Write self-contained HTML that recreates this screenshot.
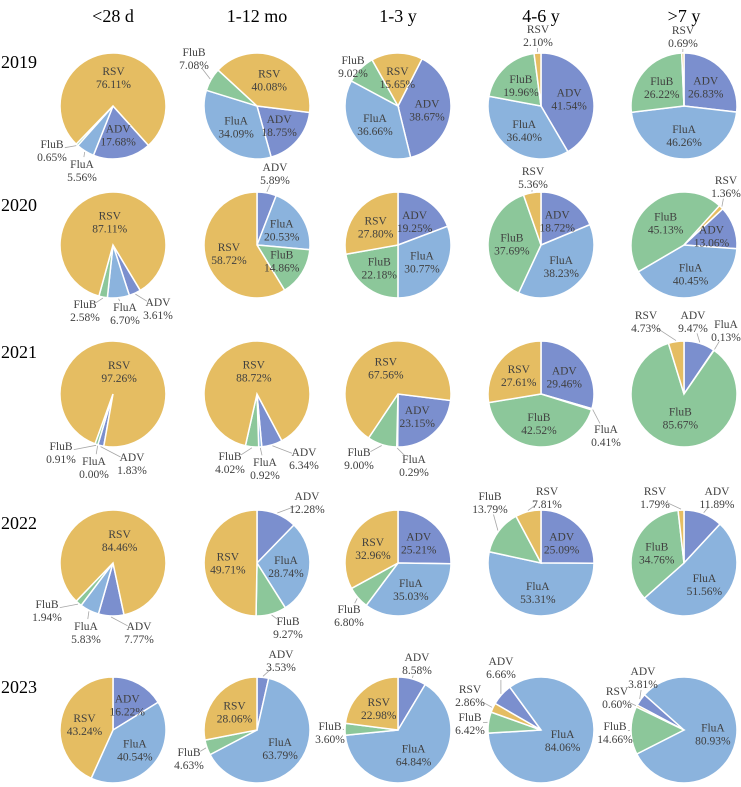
<!DOCTYPE html>
<html><head><meta charset="utf-8">
<style>
html,body{margin:0;padding:0;background:#fff;}
svg{display:block;font-family:"Liberation Serif",serif;}
</style></head>
<body>
<svg id="chart" width="741" height="787" viewBox="0 0 741 787" xmlns="http://www.w3.org/2000/svg"></svg>
<script>
const ageGroups = ["<28 d","1-12 mo","1-3 y","4-6 y",">7 y"];
const years = ["2019","2020","2021","2022","2023"];
const seriesNames = ["ADV","FluA","FluB","RSV"];
const values2019 = [[17.68,5.56,0.65,76.11],[18.75,34.09,7.08,40.08],[38.67,36.66,9.02,15.65],[41.54,36.40,19.96,2.10],[26.83,46.26,26.22,0.69]];
const values2020 = [[3.61,6.70,2.58,87.11],[5.89,20.53,14.86,58.72],[19.25,30.77,22.18,27.80],[18.72,38.23,37.69,5.36],[13.06,40.45,45.13,1.36]];
const values2021 = [[1.83,0.00,0.91,97.26],[6.34,0.92,4.02,88.72],[23.15,0.29,9.00,67.56],[29.46,0.41,42.52,27.61],[9.47,0.13,85.67,4.73]];
const values2022 = [[7.77,5.83,1.94,84.46],[12.28,28.74,9.27,49.71],[25.21,35.03,6.80,32.96],[25.09,53.31,13.79,7.81],[11.89,51.56,34.76,1.79]];
const values2023 = [[16.22,40.54,0,43.24],[3.53,63.79,4.63,28.06],[8.58,64.84,3.60,22.98],[6.66,84.06,6.42,2.86],[3.81,80.93,14.66,0.60]];
const allValues = [values2019,values2020,values2021,values2022,values2023];

// layout (not data)
const colors = ["#7b8fce","#8bb3dd","#8cc79a","#e5bd62"];
const colX = [113,257,398,541,684];
const rowY = [106,245,394,563,730];
const yearLabelY = [62,205,352,523,687];
const R = 53;
const startAngles = [[138,97,27,0,0],[149,0,0,0,47],[190,152,97,0,0],[168,0,0,0,0],[0,0,0,300,298]];
// outside label offsets per pie: {seriesIndex:[dx,dy]}
const outside = [
 [{1:[-31,64],2:[-61,44]},{2:[-63,-48]},{2:[-45,-40]},{3:[-3,-71]},{3:[-1,-70]}],
 [{0:[45,63],1:[12,68],2:[-28,65]},{0:[18,-72]},{},{3:[-8,-68]},{3:[42,-59]}],
 [{0:[19,69],1:[-19,73],2:[-52,58]},{0:[47,64],1:[8,74],2:[-27,68]},{1:[16,71],2:[-39,64]},{1:[65,41]},{0:[9,-73],1:[42,-64],3:[-38,-73]}],
 [{0:[26,69],1:[-27,69],2:[-66,47]},{0:[50,-61],2:[31,64]},{2:[-49,52]},{2:[-51,-61],3:[6,-66]},{0:[33,-66],3:[-29,-66]}],
 [{},{0:[24,-70],2:[-68,28]},{0:[19,-67],2:[-68,2]},{0:[-40,-63],2:[-71,-7],3:[-71,-35]},{0:[-41,-53],2:[-69,2],3:[-67,-33]}]
];

const svg = document.getElementById('chart');
const NS = "http://www.w3.org/2000/svg";
function mk(tag, attrs){const e=document.createElementNS(NS,tag);for(const k in attrs)e.setAttribute(k,attrs[k]);return e;}
function pt(cx,cy,r,deg){const a=deg*Math.PI/180;return [cx+r*Math.sin(a),cy-r*Math.cos(a)];}

ageGroups.forEach((g,i)=>{
  const t=mk('text',{x:colX[i],y:22,'text-anchor':'middle','font-size':'18',fill:'#000'});
  
  
  t.textContent=g; svg.appendChild(t);
});
years.forEach((y,i)=>{
  const t=mk('text',{x:1,y:yearLabelY[i]+6,'font-size':'18',fill:'#000'});
  
  
  t.textContent=y; svg.appendChild(t);
});

function label(parent,x,y,name,pct,key){
  const t=mk('text',{x:x,y:y-2,'text-anchor':'middle','font-size':'11.5',fill:'#404040'});
  
  
  const s1=mk('tspan',{x:x,dy:0});s1.textContent=name;
  const s2=mk('tspan',{x:x,dy:13});s2.textContent=pct.toFixed(2)+'%';
  t.appendChild(s1);t.appendChild(s2);parent.appendChild(t);
}

allValues.forEach((row,ri)=>{
  row.forEach((vals,ci)=>{
    const cx=colX[ci],cy=rowY[ri];
    const grp=mk('g',{});
    
    
    svg.appendChild(grp);
    const total=vals.reduce((a,b)=>a+b,0);
    let ang=startAngles[ri][ci];
    const labelsG=mk('g',{});
    vals.forEach((v,si)=>{
      const sweep=v/total*360;
      const a0=ang,a1=ang+sweep,mid=ang+sweep/2;
      ang=a1;
      const key=years[ri]+'-'+ci+'-'+seriesNames[si];
      if(sweep>0){
        let el;
        if(sweep>=359.99){
          el=mk('circle',{cx:cx,cy:cy,r:R});
        }else{
          const p0=pt(cx,cy,R,a0),p1=pt(cx,cy,R,a1);
          const large=sweep>180?1:0;
          el=mk('path',{d:`M${cx},${cy}L${p0[0].toFixed(2)},${p0[1].toFixed(2)}A${R},${R} 0 ${large} 1 ${p1[0].toFixed(2)},${p1[1].toFixed(2)}Z`});
        }
        el.setAttribute('fill',colors[si]);
        el.setAttribute('stroke','#fff');
        el.setAttribute('stroke-width','1.5');
        
        
        grp.appendChild(el);
      }
      if(ri===4&&ci===0&&si===2) return; // no FluB in 2023 <28d
      const off=outside[ri][ci][si];
      if(off){
        const e=pt(cx,cy,R+1,mid);
        const lx=cx+off[0],ly=cy+off[1];
        const dx=lx-e[0],dy=ly-e[1],d=Math.hypot(dx,dy);
        const k=Math.max(0,(d-13)/d);
        const ln=mk('line',{x1:e[0].toFixed(1),y1:e[1].toFixed(1),x2:(e[0]+dx*k).toFixed(1),y2:(e[1]+dy*k).toFixed(1),stroke:'#a6a6a6','stroke-width':'0.8'});
        
        
        labelsG.appendChild(ln);
        label(labelsG,lx,ly,seriesNames[si],v,key);
      }else{
        const rr=sweep>300?0.45*R:0.55*R;
        const p=pt(cx,cy,rr,sweep>300?(mid+180)%360*0+ (a0+a1)/2:mid);
        label(labelsG,p[0],p[1],seriesNames[si],v,key);
      }
    });
    grp.appendChild(labelsG);
  });
});
</script>
</body></html>
